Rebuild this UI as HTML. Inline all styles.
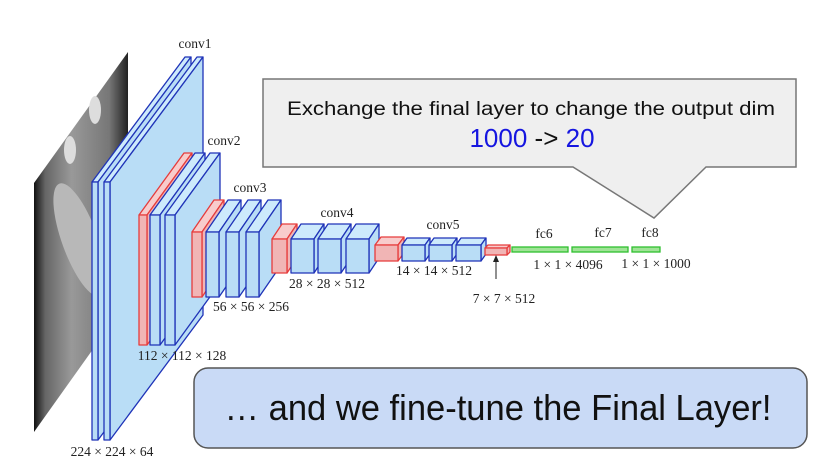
<!DOCTYPE html>
<html><head><meta charset="utf-8"><style>
html,body{margin:0;padding:0;background:#fff;}
svg{display:block;}
.b{fill:#b9ddf6;stroke:#1f33b8;stroke-width:1.3;stroke-linejoin:round}
.bt{fill:#cdeafc;stroke:#1f33b8;stroke-width:1.3;stroke-linejoin:round}
.r{fill:#f1b5b5;stroke:#e63c3c;stroke-width:1.3;stroke-linejoin:round}
.rt{fill:#f8cccc;stroke:#e63c3c;stroke-width:1.3;stroke-linejoin:round}
.g{fill:#9fe396;stroke:#2fbf2f;stroke-width:1.3}
.t{font-family:"Liberation Serif",serif;font-size:13.5px;fill:#222;text-anchor:middle}
</style></head><body>
<svg width="816" height="461" viewBox="0 0 816 461" xmlns="http://www.w3.org/2000/svg">
<defs>
<linearGradient id="img" x1="0" y1="0" x2="1" y2="0">
<stop offset="0" stop-color="#111"/><stop offset="0.12" stop-color="#666"/><stop offset="0.4" stop-color="#999"/><stop offset="0.8" stop-color="#777"/><stop offset="1" stop-color="#222"/>
</linearGradient>
</defs>
<polygon points="34,183 128,52 128,300 34,432" fill="url(#img)"/>
<ellipse cx="80" cy="240" rx="18" ry="60" fill="#b8b8b8" transform="rotate(-20 80 240)"/>
<ellipse cx="70" cy="150" rx="6" ry="14" fill="#ddd"/>
<ellipse cx="95" cy="110" rx="6" ry="14" fill="#ddd"/>
<polygon class="bt" points="92,182 185,57 191,57 98,182"/>
<polygon class="b" points="98,182 191,57 191,315 98,440"/>
<rect class="b" x="92" y="182" width="6" height="258"/>
<polygon class="bt" points="104,182 197,57 203,57 110,182"/>
<polygon class="b" points="110,182 203,57 203,315 110,440"/>
<rect class="b" x="104" y="182" width="6" height="258"/>
<polygon class="rt" points="139,215 184,153 192,153 147,215"/>
<polygon class="r" points="147,215 192,153 192,283 147,345"/>
<rect class="r" x="139" y="215" width="8" height="130"/>
<polygon class="bt" points="150,215 195,153 205,153 160,215"/>
<polygon class="b" points="160,215 205,153 205,283 160,345"/>
<rect class="b" x="150" y="215" width="10" height="130"/>
<polygon class="bt" points="165,215 210,153 220,153 175,215"/>
<polygon class="b" points="175,215 220,153 220,283 175,345"/>
<rect class="b" x="165" y="215" width="10" height="130"/>
<polygon class="rt" points="192,232 214,200 224,200 202,232"/>
<polygon class="r" points="202,232 224,200 224,265 202,297"/>
<rect class="r" x="192" y="232" width="10" height="65"/>
<polygon class="bt" points="206,232 228,200 241,200 219,232"/>
<polygon class="b" points="219,232 241,200 241,265 219,297"/>
<rect class="b" x="206" y="232" width="13" height="65"/>
<polygon class="bt" points="226,232 248,200 261,200 239,232"/>
<polygon class="b" points="239,232 261,200 261,265 239,297"/>
<rect class="b" x="226" y="232" width="13" height="65"/>
<polygon class="bt" points="246,232 268,200 281,200 259,232"/>
<polygon class="b" points="259,232 281,200 281,265 259,297"/>
<rect class="b" x="246" y="232" width="13" height="65"/>
<polygon class="rt" points="272,239 282,224 297,224 287,239"/>
<polygon class="r" points="287,239 297,224 297,258 287,273"/>
<rect class="r" x="272" y="239" width="15" height="34"/>
<polygon class="bt" points="291,239 301,224 324,224 314,239"/>
<polygon class="b" points="314,239 324,224 324,258 314,273"/>
<rect class="b" x="291" y="239" width="23" height="34"/>
<polygon class="bt" points="318,239 328,224 351,224 341,239"/>
<polygon class="b" points="341,239 351,224 351,258 341,273"/>
<rect class="b" x="318" y="239" width="23" height="34"/>
<polygon class="bt" points="346,239 356,224 379,224 369,239"/>
<polygon class="b" points="369,239 379,224 379,258 369,273"/>
<rect class="b" x="346" y="239" width="23" height="34"/>
<polygon class="rt" points="375,245 381,237 404,237 398,245"/>
<polygon class="r" points="398,245 404,237 404,253 398,261"/>
<rect class="r" x="375" y="245" width="23" height="16"/>
<polygon class="bt" points="402,245 407,238 430,238 425,245"/>
<polygon class="b" points="425,245 430,238 430,254 425,261"/>
<rect class="b" x="402" y="245" width="23" height="16"/>
<polygon class="bt" points="429,245 434,238 457,238 452,245"/>
<polygon class="b" points="452,245 457,238 457,254 452,261"/>
<rect class="b" x="429" y="245" width="23" height="16"/>
<polygon class="bt" points="456,245 461,238 486,238 481,245"/>
<polygon class="b" points="481,245 486,238 486,254 481,261"/>
<rect class="b" x="456" y="245" width="25" height="16"/>
<polygon class="rt" points="485,248 488,245 510,245 507,248"/>
<polygon class="r" points="507,248 510,245 510,252 507,255"/>
<rect class="r" x="485" y="248" width="22" height="7"/>
<rect class="g" x="512" y="247" width="56" height="5"/>
<rect class="g" x="572" y="247" width="56" height="5"/>
<rect class="g" x="632" y="247" width="28" height="5"/>
<line x1="496" y1="279" x2="496" y2="258" stroke="#222" stroke-width="1"/>
<polygon points="496,255 493,262 499,262" fill="#222"/>
<text class="t" x="195" y="48">conv1</text>
<text class="t" x="224" y="145">conv2</text>
<text class="t" x="250" y="192">conv3</text>
<text class="t" x="337" y="217">conv4</text>
<text class="t" x="443" y="229">conv5</text>
<text class="t" x="544" y="238">fc6</text>
<text class="t" x="603" y="237">fc7</text>
<text class="t" x="650" y="237">fc8</text>
<text class="t" x="112" y="456">224 × 224 × 64</text>
<text class="t" x="182" y="360">112 × 112 × 128</text>
<text class="t" x="251" y="311">56 × 56 × 256</text>
<text class="t" x="327" y="288">28 × 28 × 512</text>
<text class="t" x="434" y="275">14 × 14 × 512</text>
<text class="t" x="504" y="303">7 × 7 × 512</text>
<text class="t" x="568" y="269">1 × 1 × 4096</text>
<text class="t" x="656" y="268">1 × 1 × 1000</text>
<path d="M263,79 H796 V167 H706 L654,218 L573,167 H263 Z" fill="#efefef" stroke="#777" stroke-width="1.5"/>
<text x="531" y="115" font-family="Liberation Sans,sans-serif" font-size="19" text-anchor="middle" fill="#111" textLength="488" lengthAdjust="spacingAndGlyphs">Exchange the final layer to change the output dim</text>
<text x="532" y="147" font-family="Liberation Sans,sans-serif" font-size="26" text-anchor="middle"><tspan fill="#1515e0">1000</tspan><tspan fill="#111"> -&gt; </tspan><tspan fill="#1515e0">20</tspan></text>
<rect x="194" y="368" width="613" height="80" rx="14" fill="#c9daf6" stroke="#555" stroke-width="1.5"/>
<text x="498" y="420" font-family="Liberation Sans,sans-serif" font-size="36" text-anchor="middle" fill="#111" textLength="547" lengthAdjust="spacingAndGlyphs">… and we fine-tune the Final Layer!</text>
</svg>
</body></html>
